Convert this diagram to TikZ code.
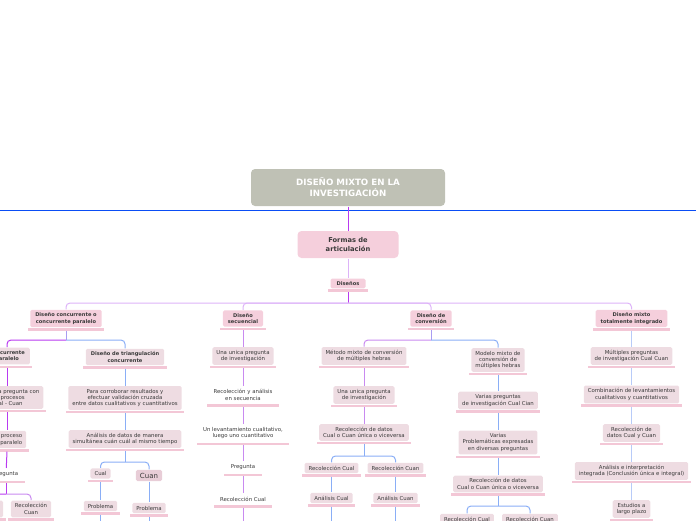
\documentclass[tikz,border=0pt]{standalone}
\usepackage{fontspec}
\setmainfont{DejaVu Sans}
\definecolor{titlegray}{HTML}{BFC1B5}
\definecolor{pinkA}{HTML}{F5CFDC}
\definecolor{pinkB}{HTML}{EEDCE2}
\definecolor{pinkC}{HTML}{E8CDD7}
\definecolor{barpink}{HTML}{F3C7D6}
\definecolor{txt}{HTML}{3A3A3A}
\definecolor{hline}{HTML}{0A4DF5}
\definecolor{purpleA}{HTML}{B93AF0}
\definecolor{purpleB}{HTML}{DDB3F8}
\definecolor{purpleC}{HTML}{C98AF0}
\definecolor{mixC}{HTML}{A99CF2}
\definecolor{blueA}{HTML}{8AAEF6}
\definecolor{blueB}{HTML}{B8CBF8}
\tikzset{
  titulo/.style={fill=titlegray,rounded corners=4pt,text=white,align=center,
    font=\bfseries\fontsize{8.7}{11}\selectfont,minimum width=194pt,minimum height=37pt},
  formas/.style={fill=pinkA,rounded corners=4pt,text=txt,align=center,
    font=\bfseries\fontsize{6.7}{9}\selectfont,minimum width=101pt,minimum height=27pt},
  diseno/.style={fill=pinkA,rounded corners=1.5pt,text=txt,align=center,
    font=\bfseries\fontsize{5.1}{6.5}\selectfont,inner xsep=5pt,inner ysep=2.8pt},
  sub/.style={diseno,fill=pinkB},
  item/.style={fill=pinkB,rounded corners=1.5pt,text=txt,align=center,
    font=\fontsize{5.4}{6.3}\selectfont,inner xsep=4pt,inner ysep=3pt},
  plain/.style={item,fill=none},
  bar/.style={fill=barpink,draw=none},
  link/.style={rounded corners=4pt}
}
\begin{document}
\begin{tikzpicture}[x=1pt,y=-1pt,line width=1pt]
\useasboundingbox (0,0) rectangle (696,520);
% titulo y tronco
\node[titulo] (tit) at (348,187.5) {DISEÑO MIXTO EN LA\\INVESTIGACIÓN};
\node[formas] (form) at (348,244.5) {Formas de\\articulación};
\node[diseno,minimum width=35pt] (dis) at (348,283.5) {Diseños};
% los cuatro disenos
\node[diseno] (conc) at (66,318.5) {Diseño concurrente o\\concurrente paralelo};
\node[diseno] (sec) at (243,318.5) {Diseño\\secuencial};
\node[diseno] (conv) at (431,318.5) {Diseño de\\conversión};
\node[diseno] (integ) at (631.5,318.5) {Diseño mixto\\totalmente integrado};
% concurrente
\node[sub] (cc) at (7,356) {Concurrente\\paralelo};
\node[item] (cc2) at (7,397.5) {Una unica pregunta con\\dos procesos\\Cual - Cuan};
\node[item] (cc3) at (7,439.5) {Un proceso\\en paralelo};
\node[plain] (cc4) at (6,474) {Pregunta};
\node[item] (cc5) at (-17,509) {Recolección\\Cual};
\node[item] (cc6) at (31,509) {Recolección\\Cuan};
\node[sub] (tri) at (125,357) {Diseño de triangulación\\concurrente};
\node[item] (tri2) at (125,398) {Para corroborar resultados y\\efectuar validación cruzada\\entre datos cualitativos y cuantitativos};
\node[item] (tri3) at (125,439) {Análisis de datos de manera\\simultánea cuán cuál al mismo tiempo};
\node[item] (cual) at (100.5,473.5) {Cual};
\node[item,fill=pinkC,font=\fontsize{7}{8}\selectfont] (cuan) at (149,475.5) {Cuan};
\node[item] (prob1) at (100.5,506) {Problema};
\node[item] (prob2) at (149,508) {Problema};
% secuencial
\node[item] (sec1) at (243,356) {Una unica pregunta\\de investigación};
\node[plain] (sec2) at (243,395) {Recolección y análisis\\en secuencia};
\node[plain] (sec3) at (243,433) {Un levantamiento cualitativo,\\luego uno cuantitativo};
\node[plain] (sec4) at (243,467) {Pregunta};
\node[plain] (sec5) at (243,499) {Recolección Cual};
% conversion
\node[item] (met1) at (364,356) {Método mixto de conversión\\de múltiples hebras};
\node[item] (met2) at (364,395) {Una unica pregunta\\de investigación};
\node[item] (met3) at (364,432.5) {Recolección de datos\\Cual o Cuan única o viceversa};
\node[item] (met4) at (331.5,468) {Recolección Cual};
\node[item] (met5) at (395.5,468) {Recolección Cuan};
\node[item] (met6) at (331.5,498) {Análisis Cual};
\node[item] (met7) at (395.5,498) {Análisis Cuan};
\node[item] (mod1) at (498,360) {Modelo mixto de\\conversión de\\múltiples hebras};
\node[item] (mod2) at (498,400.5) {Varias preguntas\\de investigación Cual Cian};
\node[item] (mod3) at (498,442.5) {Varias\\Problemáticas expresadas\\en diversas preguntas};
\node[item] (mod4) at (498,484) {Recolección de datos\\Cual o Cuan única o viceversa};
\node[item] (mod5) at (467,519) {Recolección Cual};
\node[item] (mod6) at (530,519) {Recolección Cuan};
% integrado
\node[item] (int1) at (631.5,356) {Múltiples preguntas\\de investigación Cual Cuan};
\node[item] (int2) at (631.5,394.5) {Combinación de levantamientos\\cualitativos y cuantitativos};
\node[item] (int3) at (631.5,433) {Recolección de\\datos Cual y Cuan};
\node[item] (int4) at (631.5,471) {Análisis e interpretación\\integrada (Conclusión única e integral)};
\node[item] (int5) at (631.5,509) {Estudios a\\largo plazo};
% barras bajo los nodos
\foreach \n in {dis,conc,sec,conv,integ,cc,cc2,cc3,cc4,cc5,cc6,tri,tri2,tri3,cual,prob1,prob2,
  sec1,sec2,sec3,sec4,sec5,met1,met2,met3,met4,met5,met6,met7,mod1,mod2,mod3,mod4,mod5,mod6,
  int1,int2,int3,int4,int5}
  \fill[bar] ([xshift=-2pt,yshift=-0.6pt]\n.south west) rectangle ([xshift=2pt,yshift=-3pt]\n.south east);
% puntos de ramificacion
\coordinate (hl) at (0,210);
\coordinate (hr) at (696,210);
\coordinate (jd) at (348,303);
\coordinate (j1) at (66,340);
\coordinate (ja) at (6,494);
\coordinate (jb) at (125,462);
\coordinate (j3) at (431,340);
\coordinate (jv) at (364,456);
\coordinate (jw) at (498,506);
\coordinate (e1) at (100.5,530);
\coordinate (e2) at (149,530);
\coordinate (e3) at (243,530);
\coordinate (e4) at (331.5,530);
\coordinate (e5) at (395.5,530);
% lineas
\draw[hline] (hl)--(hr);
\draw[purpleA] (tit)--(form);
\draw[purpleB] (form)--(dis);
\draw[purpleA] ([yshift=-3pt]dis.south)--(jd);
\draw[purpleB,link] (jd)-|(conc.north);
\draw[purpleB,link] (jd)-|(sec.north);
\draw[purpleB,link] (jd)-|(conv.north);
\draw[purpleB,link] (jd)-|(integ.north);
\draw[mixC] ([yshift=-3pt]conc.south)--(j1);
\draw[purpleA,link] (j1)-|(cc.north);
\draw[blueA,link] (j1)-|(tri.north);
\draw[purpleA] ([yshift=-3pt]cc.south)--(cc2);
\draw[purpleA] ([yshift=-3pt]cc2.south)--(cc3);
\draw[purpleA] ([yshift=-3pt]cc3.south)--(cc4);
\draw[purpleA] ([yshift=-3pt]cc4.south)--(ja);
\draw[purpleA,link] (ja)-|(cc5.north);
\draw[purpleC,link] (ja)-|(cc6.north);
\draw[blueA] ([yshift=-3pt]tri.south)--(tri2);
\draw[blueA] ([yshift=-3pt]tri2.south)--(tri3);
\draw[blueA] ([yshift=-3pt]tri3.south)--(jb);
\draw[blueA,link] (jb)-|(cual.north);
\draw[blueA,link] (jb)-|(cuan.north);
\draw[blueA] ([yshift=-3pt]cual.south)--(prob1);
\draw[blueA] (cuan)--(prob2);
\draw[blueA] ([yshift=-3pt]prob1.south)--(e1);
\draw[blueA] ([yshift=-3pt]prob2.south)--(e2);
\draw[purpleC] ([yshift=-3pt]sec.south)--(sec1);
\draw[purpleC] ([yshift=-3pt]sec1.south)--(sec2);
\draw[purpleC] ([yshift=-3pt]sec2.south)--(sec3);
\draw[purpleC] ([yshift=-3pt]sec3.south)--(sec4);
\draw[purpleC] ([yshift=-3pt]sec4.south)--(sec5);
\draw[purpleC] ([yshift=-3pt]sec5.south)--(e3);
\draw[mixC] ([yshift=-3pt]conv.south)--(j3);
\draw[purpleC,link] (j3)-|(met1.north);
\draw[blueA,link] (j3)-|(mod1.north);
\draw[purpleC] ([yshift=-3pt]met1.south)--(met2);
\draw[purpleC] ([yshift=-3pt]met2.south)--(met3);
\draw[blueA] ([yshift=-3pt]met3.south)--(jv);
\draw[blueA,link] (jv)-|(met4.north);
\draw[blueA,link] (jv)-|(met5.north);
\draw[blueA] ([yshift=-3pt]met4.south)--(met6);
\draw[blueA] ([yshift=-3pt]met5.south)--(met7);
\draw[blueA] ([yshift=-3pt]met6.south)--(e4);
\draw[blueA] ([yshift=-3pt]met7.south)--(e5);
\draw[blueA] ([yshift=-3pt]mod1.south)--(mod2);
\draw[blueA] ([yshift=-3pt]mod2.south)--(mod3);
\draw[blueA] ([yshift=-3pt]mod3.south)--(mod4);
\draw[blueA] ([yshift=-3pt]mod4.south)--(jw);
\draw[blueA,link] (jw)-|(mod5.north);
\draw[blueA,link] (jw)-|(mod6.north);
\draw[blueB] ([yshift=-3pt]integ.south)--(int1);
\draw[blueB] ([yshift=-3pt]int1.south)--(int2);
\draw[blueB] ([yshift=-3pt]int2.south)--(int3);
\draw[blueB] ([yshift=-3pt]int3.south)--(int4);
\draw[blueB] ([yshift=-3pt]int4.south)--(int5);
\end{tikzpicture}
\end{document}
